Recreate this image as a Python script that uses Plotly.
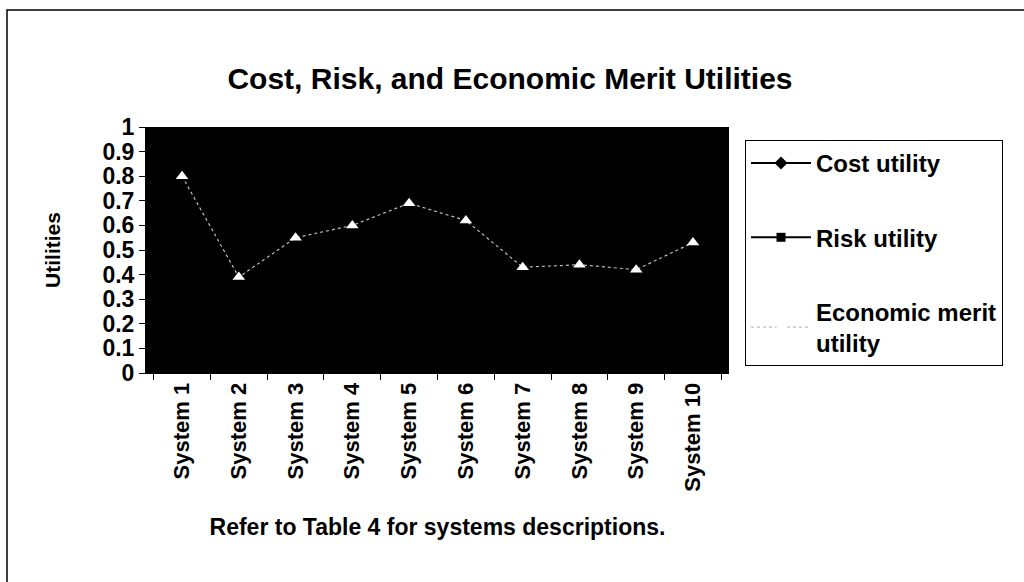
import plotly.graph_objects as go

systems = ["System 1", "System 2", "System 3", "System 4", "System 5",
           "System 6", "System 7", "System 8", "System 9", "System 10"]
# Cost and risk lines are drawn in black on the black plot area, so their
# values cannot be read from the picture.
cost_utility = [None] * 10
risk_utility = [None] * 10
economic_merit_utility = [0.80, 0.39, 0.55, 0.60, 0.69, 0.62, 0.43, 0.44, 0.42, 0.53]

FONT = "Arial, 'Liberation Sans', sans-serif"

fig = go.Figure()
fig.add_trace(go.Scatter(
    x=systems, y=cost_utility, name="<b>Cost utility</b>", mode="lines+markers",
    line=dict(color="black", width=2), marker=dict(symbol="diamond", size=10, color="black"),
    legendgroup="a"))
fig.add_trace(go.Scatter(
    x=systems, y=risk_utility, name="<b>Risk utility</b>", mode="lines+markers",
    line=dict(color="black", width=2), marker=dict(symbol="square", size=9, color="black"),
    legendgroup="b"))
fig.add_trace(go.Scatter(
    x=systems, y=economic_merit_utility, name="<b>Economic merit<br>utility</b>",
    mode="lines+markers",
    line=dict(color="#bdbdbd", width=1.2, dash="dot"),
    marker=dict(symbol="triangle-up", size=11, color="white", line=dict(color="white", width=0)),
    legendgroup="c"))

fig.update_layout(
    width=1024, height=582,
    margin=dict(l=146, r=295, t=127, b=209),
    paper_bgcolor="white", plot_bgcolor="black",
    font=dict(family=FONT, color="black"),
    title=dict(text="<b>Cost, Risk, and Economic Merit Utilities</b>",
               font=dict(size=30, family=FONT, color="black"),
               x=510 / 1024, xref="container", xanchor="center", y=1 - 78 / 582, yanchor="middle"),
    showlegend=True,
    legend=dict(x=(745 - 146) / 583, y=(373 - 140) / 246, xanchor="left", yanchor="top",
                bordercolor="black", borderwidth=1, bgcolor="white",
                font=dict(size=24, family=FONT, color="black"),
                traceorder="grouped", tracegroupgap=40, itemwidth=60),
)

fig.update_xaxes(
    type="category", tickangle=-90, tickson="boundaries",
    ticks="outside", ticklen=6, tickcolor="black",
    tickfont=dict(size=22, family=FONT, color="black"),
    tickvals=systems, ticktext=[f"<b>{s}</b>" for s in systems],
    showgrid=False, zeroline=False, showline=True, linecolor="black",
    title=dict(text="<b>Refer to Table 4 for systems descriptions.</b>",
               font=dict(size=23, family=FONT, color="black"), standoff=28),
)
fig.update_yaxes(
    range=[0, 1], ticks="outside", ticklen=6, tickcolor="black",
    tickvals=[i / 10 for i in range(11)],
    ticktext=["<b>0</b>"] + [f"<b>0.{i}</b>" for i in range(1, 10)] + ["<b>1</b>"],
    tickfont=dict(size=23, family=FONT, color="black"),
    showgrid=False, zeroline=False, showline=True, linecolor="black",
    title=dict(text="<b>Utilities</b>", font=dict(size=21, family=FONT, color="black"), standoff=36),
)

# outer chart border (only its top and left edges fall inside the picture)
fig.add_shape(type="rect", xref="paper", yref="paper",
              x0=(7 - 146) / 583, x1=(1040 - 146) / 583,
              y0=(373 - 600) / 246, y1=(373 - 10) / 246,
              line=dict(color="black", width=1.5), fillcolor="rgba(0,0,0,0)", layer="above")

fig.write_html("out.html", config={"displayModeBar": False},
               post_script="document.body.style.margin='0px';")
